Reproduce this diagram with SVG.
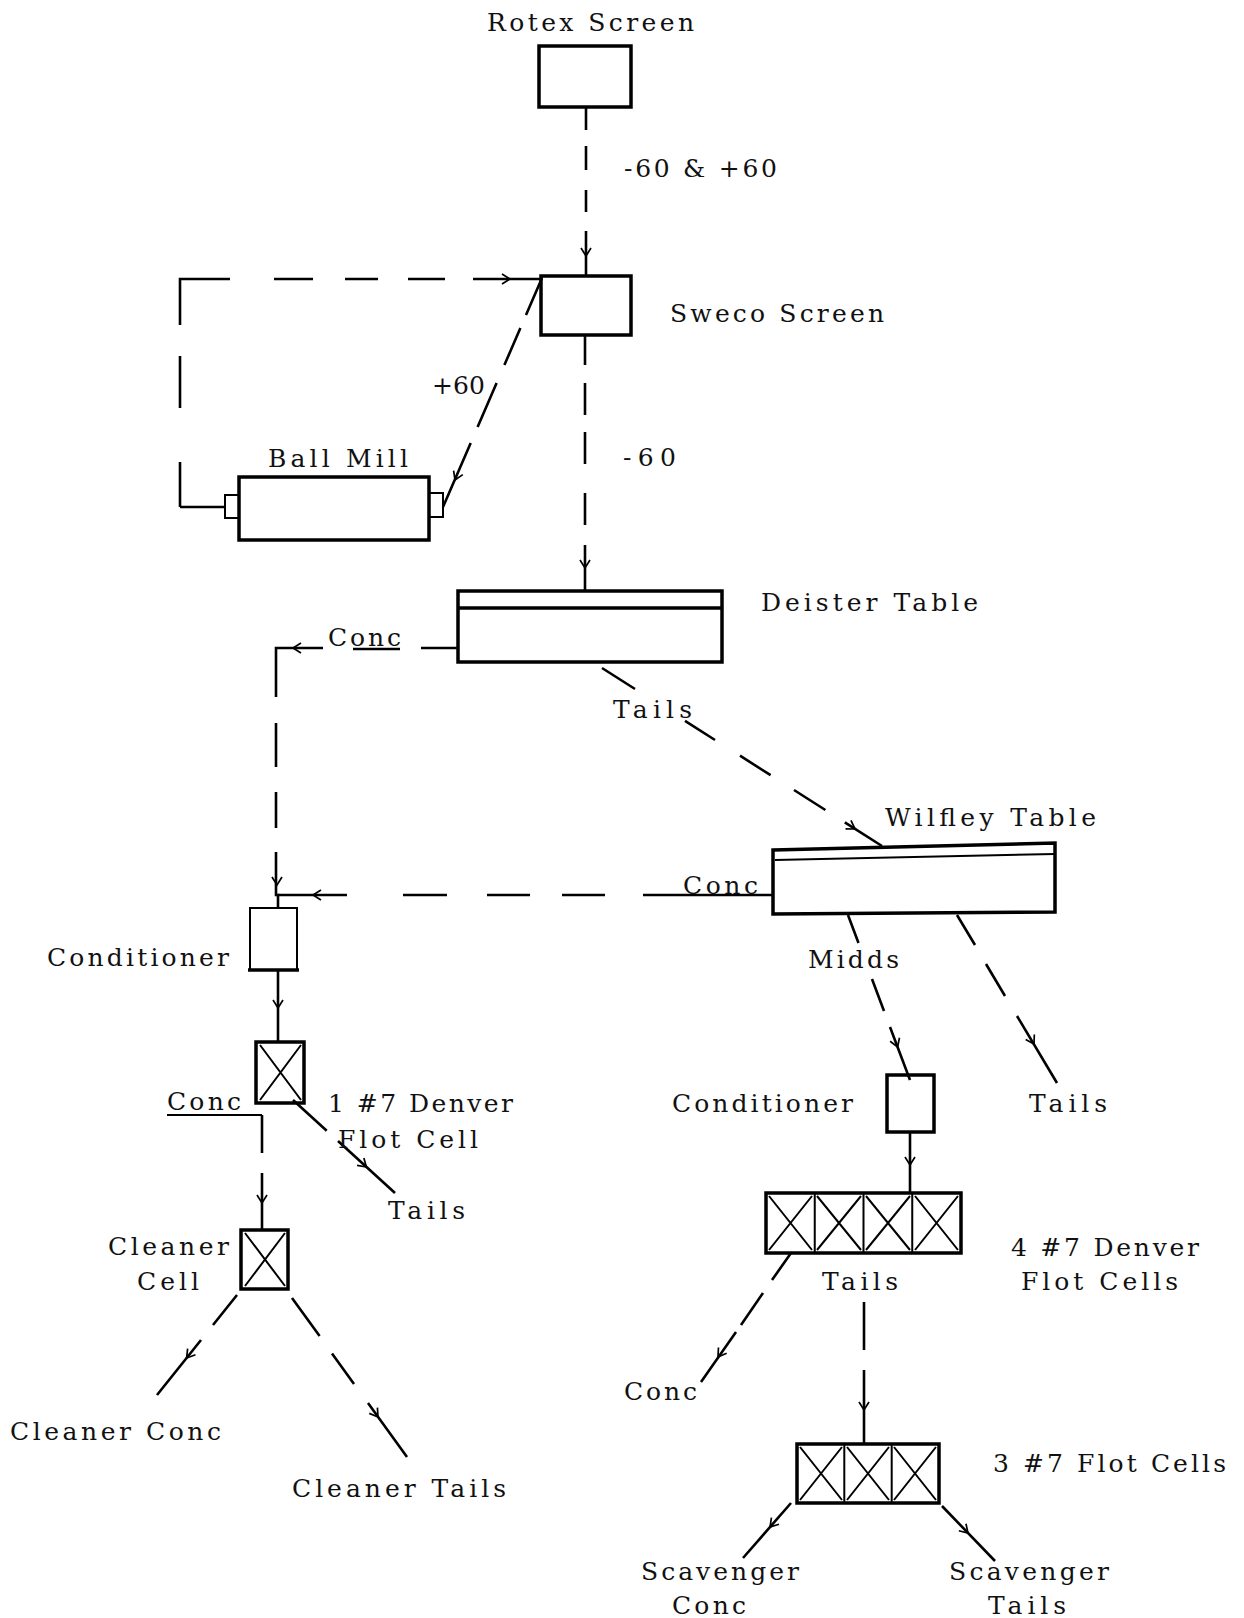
<svg xmlns="http://www.w3.org/2000/svg" width="1244" height="1618" viewBox="0 0 1244 1618">
<style>
  .box{fill:none;stroke:#000;stroke-width:3.5;stroke-linejoin:miter}
  .thin{fill:none;stroke:#000;stroke-width:2}
  .cx{fill:none;stroke:#000;stroke-width:2}
  .ln{fill:none;stroke:#000;stroke-width:2.6;stroke-linecap:butt}
  .arrow{fill:none;stroke:none}
  text{font-family:"DejaVu Serif","Liberation Serif",serif;font-size:25px;fill:#111}
</style>
<defs>
  <marker id="ah" viewBox="-10 -7 12 14" refX="0" refY="0" markerWidth="12" markerHeight="14" markerUnits="userSpaceOnUse" orient="auto">
    <path d="M-8,-5 L0,0 L-8,5" fill="none" stroke="#000" stroke-width="1.7"/>
  </marker>
</defs>
<rect width="1244" height="1618" fill="#fff"/>

<g id="connectors">
  <!-- Rotex -> Sweco -->
  <path class="ln" d="M586 107 V130 M586 146 V170 M586 190 V212 M586 231 V276"/>
  <path class="arrow" d="M586 250 L586 256" marker-end="url(#ah)"/>
  <!-- Ball mill recycle loop -> Sweco -->
  <path class="ln" d="M225 507 H180 M180 507 V462 M180 408 V356 M180 325 V279 H230 M274 279 H313 M345 279 H378 M408 279 H445 M473 279 H542"/>
  <path class="arrow" d="M504 279 L510 279" marker-end="url(#ah)"/>
  <!-- Sweco -> Ball Mill (+60) -->
  <path class="ln" d="M542 278 L526 315 M520.4 328 L504.4 365 M496.6 383 L477.6 427 M470.7 443 L443 507"/>
  <path class="arrow" d="M457.4 474.5 L455 480" marker-end="url(#ah)"/>
  <!-- Sweco -> Deister (-60) -->
  <path class="ln" d="M585 336 V365 M585 383 V415 M585 432 V464 M585 493 V525 M585 545 V591"/>
  <path class="arrow" d="M585 562 L585 568" marker-end="url(#ah)"/>
  <!-- Deister Conc -> Conditioner -->
  <path class="ln" d="M458 648 H421 M400 649 H353 M323 648 H276 V697 M276 723 V767 M276 792 V828 M276 852 V895 H278 V908"/>
  <path class="arrow" d="M299 648 L293 648" marker-end="url(#ah)"/>
  <path class="arrow" d="M277 879 L277 885" marker-end="url(#ah)"/>
  <!-- Deister Tails -> Wilfley -->
  <path class="ln" d="M602 668 L635 689 M685 720.8 L715 740 M740 755.7 L770.6 775.2 M794 790 L825.4 810 M844.8 822.4 L882 846"/>
  <path class="arrow" d="M850 825.8 L855 829" marker-end="url(#ah)"/>
  <!-- Wilfley Conc -> Conditioner -->
  <path class="ln" d="M773 895 H643 M605 895 H562 M530 895 H487 M447 895 H403 M347 895 H278"/>
  <path class="arrow" d="M319 895 L313 895" marker-end="url(#ah)"/>
  <!-- Conditioner -> Flot cell -->
  <path class="ln" d="M278 970 V1042"/>
  <path class="arrow" d="M278 1002 L278 1008" marker-end="url(#ah)"/>
  <!-- Flot cell Conc -> Cleaner cell -->
  <path class="thin" d="M167 1115 H262"/>
  <path class="ln" d="M262 1115 V1153 M262 1173 V1230"/>
  <path class="arrow" d="M262 1197 L262 1203" marker-end="url(#ah)"/>
  <!-- Flot cell Tails -->
  <path class="ln" d="M293 1100 L326.7 1130.7 M338 1141 L395 1193"/>
  <path class="arrow" d="M362 1163 L366.4 1167" marker-end="url(#ah)"/>
  <!-- Cleaner cell -> Cleaner Conc -->
  <path class="ln" d="M237 1295 L213 1325 M201 1340 L157 1395"/>
  <path class="arrow" d="M190.3 1353.3 L186.6 1358" marker-end="url(#ah)"/>
  <!-- Cleaner cell -> Cleaner Tails -->
  <path class="ln" d="M292 1298 L319.6 1336 M332 1353.6 L354 1384 M368 1403 L407 1457"/>
  <path class="arrow" d="M374.5 1412.1 L378 1417" marker-end="url(#ah)"/>
  <!-- Wilfley Midds -> Conditioner -->
  <path class="ln" d="M848 915 L858.5 943 M872 979 L884 1011 M890 1027 L910 1080"/>
  <path class="arrow" d="M895.5 1041.4 L897.6 1047" marker-end="url(#ah)"/>
  <!-- Wilfley Tails -->
  <path class="ln" d="M957 915 L975 945 M986 964 L1005 996 M1017 1016 L1057 1083"/>
  <path class="arrow" d="M1031 1038.8 L1034 1044" marker-end="url(#ah)"/>
  <!-- Conditioner -> 4 cells -->
  <path class="ln" d="M910 1132 V1193"/>
  <path class="arrow" d="M910 1159 L910 1165" marker-end="url(#ah)"/>
  <!-- 4 cells Conc -->
  <path class="ln" d="M791 1253 L772 1280 M763 1293 L741 1325 M736 1332 L701 1382"/>
  <path class="arrow" d="M721.4 1352.1 L718 1357" marker-end="url(#ah)"/>
  <!-- 4 cells Tails -> 3 cells -->
  <path class="ln" d="M864 1302 V1350 M864 1370 V1444"/>
  <path class="arrow" d="M864 1404 L864 1410" marker-end="url(#ah)"/>
  <!-- 3 cells -> Scavenger Conc -->
  <path class="ln" d="M791 1503 L743 1558"/>
  <path class="arrow" d="M773.9 1522.5 L770 1527" marker-end="url(#ah)"/>
  <!-- 3 cells -> Scavenger Tails -->
  <path class="ln" d="M942 1506 L995 1561"/>
  <path class="arrow" d="M963.8 1528.7 L968 1533" marker-end="url(#ah)"/>
</g>

<g id="rotex">
  <rect class="box" x="539" y="46" width="92" height="61"/>
  <text x="487" y="31" textLength="207" lengthAdjust="spacing">Rotex Screen</text>
</g>
<text x="624" y="177" textLength="153" lengthAdjust="spacing">-60 &amp; +60</text>

<g id="sweco">
  <rect class="box" x="541" y="276" width="90" height="59"/>
  <text x="670" y="322" textLength="214" lengthAdjust="spacing">Sweco Screen</text>
</g>
<text x="432" y="394" textLength="53" lengthAdjust="spacing">+60</text>
<text x="623" y="466" textLength="53" lengthAdjust="spacing">-60</text>

<g id="ballmill">
  <rect class="box" x="239" y="477" width="190" height="63"/>
  <rect class="thin" x="225" y="495" width="14" height="23"/>
  <rect class="thin" x="429" y="493" width="14" height="24"/>
  <text x="268" y="467" textLength="140" lengthAdjust="spacing">Ball Mill</text>
</g>

<g id="deister">
  <rect class="box" x="458" y="591" width="264" height="71"/>
  <line class="box" x1="458" y1="608" x2="722" y2="608"/>
  <text x="761" y="611" textLength="217" lengthAdjust="spacing">Deister Table</text>
</g>
<text x="328" y="646" textLength="73" lengthAdjust="spacing">Conc</text>
<text x="613" y="718" textLength="79" lengthAdjust="spacing">Tails</text>

<g id="wilfley">
  <polygon class="box" points="773,850 1055,843 1055,912 773,914"/>
  <line class="thin" x1="775" y1="860" x2="1055" y2="854" stroke-width="2.6"/>
  <text x="885" y="826" textLength="211" lengthAdjust="spacing">Wilfley Table</text>
</g>
<text x="683" y="894" textLength="75" lengthAdjust="spacing">Conc</text>
<text x="808" y="968" textLength="91" lengthAdjust="spacing">Midds</text>
<text x="1029" y="1112" textLength="78" lengthAdjust="spacing">Tails</text>

<g id="conditioner1">
  <rect class="thin" x="250" y="908" width="47" height="62" stroke-width="2.6"/>
  <line class="box" x1="248" y1="970" x2="299" y2="970" stroke-width="4.5"/>
  <text x="47" y="966" textLength="182" lengthAdjust="spacing">Conditioner</text>
</g>

<g id="flotcell1">
  <rect class="box" x="256" y="1042" width="48" height="61"/>
  <path class="cx" d="M260 1045 L301 1100 M301 1045 L260 1100"/>
  <text x="328" y="1112" textLength="185" lengthAdjust="spacing">1 #7 Denver</text>
  <text x="338" y="1148" textLength="140" lengthAdjust="spacing">Flot Cell</text>
</g>
<text x="167" y="1110" textLength="74" lengthAdjust="spacing">Conc</text>
<text x="388" y="1219" textLength="77" lengthAdjust="spacing">Tails</text>

<g id="cleanercell">
  <rect class="box" x="241" y="1230" width="47" height="59"/>
  <path class="cx" d="M245 1233 L285 1286 M285 1233 L245 1286"/>
  <text x="108" y="1255" textLength="121" lengthAdjust="spacing">Cleaner</text>
  <text x="137" y="1290" textLength="62" lengthAdjust="spacing">Cell</text>
</g>
<text x="10" y="1440" textLength="211" lengthAdjust="spacing">Cleaner Conc</text>
<text x="292" y="1497" textLength="214" lengthAdjust="spacing">Cleaner Tails</text>

<g id="conditioner2">
  <rect class="box" x="887" y="1075" width="47" height="57"/>
  <text x="672" y="1112" textLength="181" lengthAdjust="spacing">Conditioner</text>
</g>

<g id="flotcells4">
  <rect class="box" x="766" y="1193" width="195" height="60"/>
  <path class="thin" d="M814.75 1193 V1253 M863.5 1193 V1253 M912.25 1193 V1253" stroke-width="2.6"/>
  <path class="cx" d="M769 1196 L812 1250 M812 1196 L769 1250 M817 1196 L861 1250 M861 1196 L817 1250 M866 1196 L910 1250 M910 1196 L866 1250 M915 1196 L958 1250 M958 1196 L915 1250"/>
  <text x="1011" y="1256" textLength="188" lengthAdjust="spacing">4 #7 Denver</text>
  <text x="1021" y="1290" textLength="157" lengthAdjust="spacing">Flot Cells</text>
</g>
<text x="822" y="1290" textLength="76" lengthAdjust="spacing">Tails</text>
<text x="624" y="1400" textLength="73" lengthAdjust="spacing">Conc</text>

<g id="flotcells3">
  <rect class="box" x="797" y="1444" width="142" height="59"/>
  <path class="thin" d="M844.3 1444 V1503 M891.7 1444 V1503" stroke-width="2.6"/>
  <path class="cx" d="M800 1447 L842 1500 M842 1447 L800 1500 M847 1447 L889 1500 M889 1447 L847 1500 M894 1447 L936 1500 M936 1447 L894 1500"/>
  <text x="993" y="1472" textLength="233" lengthAdjust="spacing">3 #7 Flot Cells</text>
</g>
<text x="641" y="1580" textLength="158" lengthAdjust="spacing">Scavenger</text>
<text x="672" y="1614" textLength="74" lengthAdjust="spacing">Conc</text>
<text x="949" y="1580" textLength="160" lengthAdjust="spacing">Scavenger</text>
<text x="988" y="1614" textLength="78" lengthAdjust="spacing">Tails</text>
</svg>
